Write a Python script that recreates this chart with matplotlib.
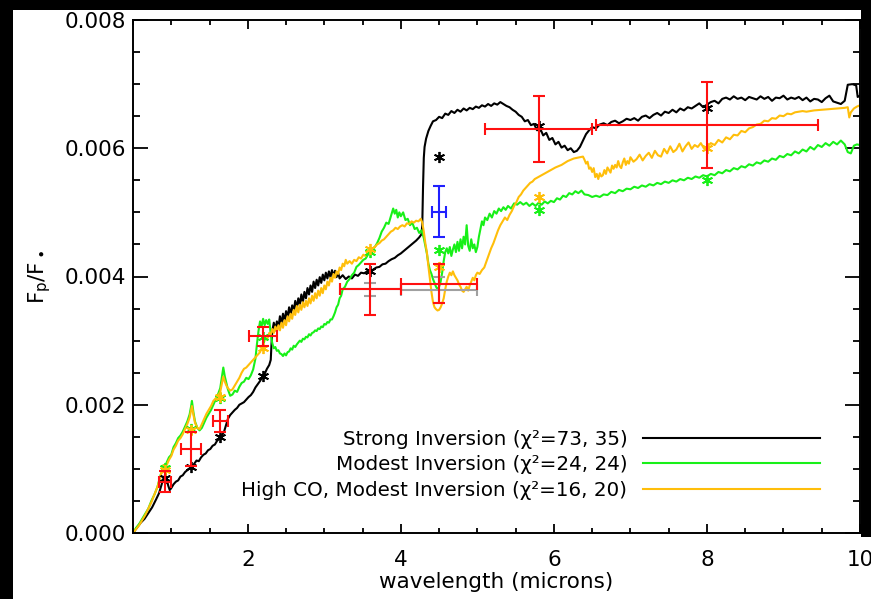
import numpy as np
import matplotlib
matplotlib.use("Agg")
import matplotlib.pyplot as plt
from matplotlib.patches import Rectangle
from matplotlib.ticker import MultipleLocator, FormatStrFormatter

plt.rcParams['font.family'] = ['DejaVu Sans']
plt.rcParams['mathtext.fontset'] = 'dejavusans'

# ---------------- model spectra (flux ratio in units of 1e-3) ----------------
strong_wl = [0.50, 0.55, 0.60, 0.65, 0.70, 0.75, 0.80, 0.84, 0.87, 0.90, 0.92, 0.94, 0.96, 0.98,
             1.00, 1.03, 1.06, 1.09, 1.12, 1.15, 1.18, 1.21, 1.24, 1.27, 1.30, 1.33, 1.36, 1.39,
             1.42, 1.45, 1.48, 1.51, 1.54, 1.57, 1.60, 1.63, 1.66, 1.69, 1.72, 1.74, 1.77, 1.80,
             1.83, 1.86, 1.89, 1.92, 1.95, 1.98, 2.01, 2.04, 2.07, 2.10, 2.13, 2.16, 2.19, 2.22,
             2.25, 2.28, 2.30, 2.31, 2.32,
             2.34, 2.36, 2.38, 2.40, 2.42, 2.44, 2.46, 2.48, 2.50, 2.52, 2.54, 2.56, 2.58, 2.60,
             2.62, 2.64, 2.66, 2.68, 2.70, 2.72, 2.74, 2.76, 2.78, 2.80, 2.82, 2.84, 2.86, 2.88,
             2.90, 2.92, 2.94, 2.96, 2.98, 3.00, 3.02, 3.04, 3.06, 3.08, 3.10, 3.12, 3.14, 3.16,
             3.18, 3.20, 3.24, 3.28, 3.32, 3.36, 3.40, 3.44, 3.48, 3.52, 3.56, 3.60, 3.64, 3.68,
             3.72, 3.76, 3.80, 3.84, 3.88, 3.92, 3.96, 4.00, 4.04, 4.08, 4.12, 4.16, 4.20, 4.24,
             4.27, 4.28, 4.29, 4.30, 4.31, 4.33, 4.36, 4.39, 4.42, 4.46, 4.50, 4.54, 4.58, 4.62,
             4.66, 4.70, 4.74, 4.78, 4.82, 4.86, 4.90, 4.94, 4.98, 5.02, 5.06, 5.10, 5.14, 5.18,
             5.22, 5.26, 5.30, 5.34, 5.38, 5.42, 5.46, 5.50, 5.54, 5.58, 5.62, 5.66, 5.70, 5.74,
             5.78, 5.82, 5.86, 5.90, 5.94, 5.98, 6.02, 6.06, 6.10, 6.14, 6.18, 6.22, 6.26, 6.30,
             6.34, 6.38, 6.42, 6.46, 6.50, 6.55, 6.60, 6.65, 6.70, 6.75, 6.80, 6.85, 6.90, 6.95,
             7.00, 7.05, 7.10, 7.15, 7.20, 7.25, 7.30, 7.35, 7.40, 7.45, 7.50, 7.55, 7.60, 7.65,
             7.70, 7.75, 7.80, 7.85, 7.90, 7.95, 8.00, 8.05, 8.10, 8.15, 8.20, 8.25, 8.30, 8.35,
             8.40, 8.45, 8.50, 8.55, 8.60, 8.65, 8.70, 8.75, 8.80, 8.85, 8.90, 8.95, 9.00, 9.05,
             9.10, 9.15, 9.20, 9.25, 9.30, 9.35, 9.40, 9.45, 9.50, 9.55, 9.60, 9.65, 9.70, 9.75,
             9.80, 9.84, 9.90, 9.95, 9.97, 10.00]
strong_flux = [0.00, 0.08, 0.16, 0.22, 0.31, 0.40, 0.52, 0.62, 0.74, 0.86, 0.90, 0.84, 0.74, 0.67,
               0.70, 0.76, 0.80, 0.82, 0.88, 0.90, 0.95, 0.98, 1.01, 1.04, 1.08, 1.13, 1.12, 1.18,
               1.22, 1.24, 1.29, 1.31, 1.36, 1.38, 1.44, 1.47, 1.52, 1.58, 1.70, 1.78, 1.84, 1.88,
               1.92, 1.95, 2.00, 2.02, 2.04, 2.08, 2.12, 2.15, 2.20, 2.27, 2.32, 2.37, 2.43, 2.48,
               2.56, 2.62, 2.70, 2.95, 3.15,
               3.28, 3.16, 3.30, 3.20, 3.38, 3.26, 3.42, 3.30, 3.46, 3.36, 3.52, 3.40, 3.55, 3.46,
               3.62, 3.50, 3.66, 3.56, 3.72, 3.60, 3.76, 3.66, 3.82, 3.72, 3.86, 3.76, 3.92, 3.82,
               3.95, 3.86, 3.99, 3.90, 4.03, 3.94, 4.06, 3.97, 4.08, 3.99, 4.10, 4.00, 4.09, 3.99,
               4.06, 3.97, 4.02, 3.96, 4.00, 3.97, 4.03, 4.01, 4.06, 4.05, 4.08, 4.07, 4.11, 4.14,
               4.15, 4.19, 4.20, 4.24, 4.27, 4.29, 4.33, 4.36, 4.40, 4.44, 4.48, 4.52, 4.56, 4.61,
               4.66, 4.80, 5.40, 5.85, 6.02, 6.15, 6.27, 6.35, 6.42, 6.44, 6.49, 6.47, 6.54, 6.52,
               6.58, 6.55, 6.60, 6.57, 6.62, 6.59, 6.63, 6.61, 6.65, 6.63, 6.67, 6.65, 6.69, 6.66,
               6.70, 6.68, 6.72, 6.69, 6.66, 6.64, 6.60, 6.57, 6.52, 6.49, 6.42, 6.44, 6.36, 6.38,
               6.28, 6.31, 6.20, 6.24, 6.13, 6.16, 6.06, 6.10, 6.01, 6.04, 5.97, 6.00, 5.94, 5.96,
               6.02, 6.12, 6.22, 6.28, 6.33, 6.31, 6.37, 6.39, 6.36, 6.41, 6.43, 6.39, 6.42, 6.46,
               6.44, 6.47, 6.43, 6.49, 6.51, 6.47, 6.52, 6.55, 6.51, 6.57, 6.55, 6.60, 6.56, 6.62,
               6.59, 6.64, 6.62, 6.66, 6.70, 6.64, 6.68, 6.72, 6.74, 6.70, 6.77, 6.79, 6.76, 6.81,
               6.77, 6.79, 6.75, 6.80, 6.78, 6.76, 6.81, 6.77, 6.80, 6.74, 6.79, 6.78, 6.82, 6.76,
               6.79, 6.77, 6.80, 6.75, 6.79, 6.73, 6.77, 6.76, 6.72, 6.78, 6.82, 6.73, 6.71, 6.69,
               6.74, 6.99, 7.00, 6.98, 6.80, 6.82]

modest_wl = [0.50, 0.54, 0.58, 0.62, 0.66, 0.70, 0.74, 0.78, 0.82, 0.85, 0.88, 0.90, 0.92, 0.94,
             0.97, 1.00, 1.03, 1.06, 1.09, 1.12, 1.15, 1.18, 1.21, 1.24, 1.26, 1.27, 1.29, 1.31,
             1.34, 1.37, 1.40, 1.43, 1.46, 1.49, 1.52, 1.55, 1.58, 1.61, 1.64, 1.66, 1.68, 1.70,
             1.72, 1.74, 1.77, 1.80, 1.83, 1.86, 1.89, 1.92, 1.95, 1.98, 2.01, 2.04, 2.07, 2.10,
             2.12, 2.14, 2.16, 2.18, 2.20, 2.22, 2.24, 2.26, 2.28, 2.30, 2.32, 2.34, 2.36, 2.38,
             2.40, 2.42, 2.44, 2.46, 2.48, 2.50, 2.52, 2.54, 2.56, 2.58, 2.60, 2.62, 2.64, 2.66,
             2.68, 2.70, 2.72, 2.74, 2.76, 2.78, 2.80, 2.82, 2.84, 2.86, 2.88, 2.90, 2.92, 2.94,
             2.96, 2.98, 3.00, 3.02, 3.04, 3.06, 3.08, 3.10, 3.12, 3.14, 3.16, 3.18, 3.20, 3.22,
             3.24, 3.27, 3.30, 3.33, 3.36, 3.39, 3.42, 3.45, 3.48, 3.51, 3.54, 3.57, 3.60, 3.63,
             3.66, 3.69, 3.72, 3.75, 3.78, 3.81, 3.84, 3.87, 3.90, 3.92, 3.94, 3.96, 3.98, 4.00,
             4.03, 4.06, 4.09, 4.12, 4.15, 4.18, 4.21, 4.24, 4.27, 4.30, 4.32, 4.34, 4.36, 4.38,
             4.40, 4.42, 4.44, 4.46, 4.48, 4.50, 4.52, 4.54, 4.56, 4.58, 4.60, 4.62, 4.64, 4.66,
             4.68, 4.70, 4.72, 4.74, 4.76, 4.78, 4.80, 4.82, 4.84, 4.86, 4.88, 4.90, 4.92, 4.94,
             4.96, 4.98, 5.00, 5.02, 5.04, 5.06, 5.08, 5.10, 5.13, 5.16, 5.19, 5.22, 5.25, 5.28,
             5.31, 5.34, 5.37, 5.40, 5.44, 5.48, 5.52, 5.56, 5.60, 5.64, 5.68, 5.72, 5.76, 5.80,
             5.84, 5.88, 5.92, 5.96, 6.00, 6.04, 6.08, 6.12, 6.16, 6.20, 6.24, 6.28, 6.32, 6.36,
             6.40, 6.45, 6.50, 6.55, 6.60, 6.65, 6.70, 6.75, 6.80, 6.85, 6.90, 6.95, 7.00, 7.05,
             7.10, 7.15, 7.20, 7.25, 7.30, 7.35, 7.40, 7.45, 7.50, 7.55, 7.60, 7.65, 7.70, 7.75,
             7.80, 7.85, 7.90, 7.95, 8.00, 8.05, 8.10, 8.15, 8.20, 8.25, 8.30, 8.35, 8.40, 8.45,
             8.50, 8.55, 8.60, 8.65, 8.70, 8.75, 8.80, 8.85, 8.90, 8.95, 9.00, 9.05, 9.10, 9.15,
             9.20, 9.25, 9.30, 9.35, 9.40, 9.45, 9.50, 9.55, 9.60, 9.65, 9.70, 9.75, 9.80, 9.84,
             9.88, 9.92, 9.96, 10.00]
modest_flux = [0.00, 0.08, 0.14, 0.22, 0.30, 0.38, 0.50, 0.60, 0.72, 0.86, 0.98, 1.06, 1.00, 1.10,
               1.18, 1.22, 1.34, 1.40, 1.48, 1.52, 1.58, 1.66, 1.74, 1.85, 1.98, 2.06, 1.88, 1.74,
               1.64, 1.60, 1.64, 1.72, 1.80, 1.86, 1.92, 2.00, 2.08, 2.16, 2.26, 2.42, 2.58, 2.44,
               2.34, 2.24, 2.14, 2.16, 2.22, 2.20, 2.28, 2.34, 2.36, 2.42, 2.40, 2.46, 2.55, 2.72,
               2.95, 3.15, 3.30, 3.22, 3.34, 3.24, 3.32, 3.26, 3.33, 3.10, 2.96, 2.88, 2.90, 2.84,
               2.85, 2.80, 2.79, 2.76, 2.80, 2.77, 2.82, 2.83, 2.88, 2.86, 2.92, 2.90, 2.94, 2.97,
               3.00, 2.98, 3.03, 3.02, 3.06, 3.05, 3.10, 3.08, 3.12, 3.13, 3.16, 3.15, 3.19, 3.18,
               3.22, 3.21, 3.26, 3.25, 3.29, 3.28, 3.33, 3.33, 3.38, 3.44, 3.52, 3.56, 3.66, 3.70,
               3.80, 3.84, 3.92, 3.96, 4.02, 4.06, 4.15, 4.18, 4.22, 4.26, 4.28, 4.34, 4.37, 4.42,
               4.46, 4.52, 4.60, 4.70, 4.76, 4.84, 4.82, 4.94, 5.06, 4.98, 5.04, 4.92, 5.00, 4.94,
               5.00, 4.88, 4.90, 4.80, 4.84, 4.74, 4.76, 4.68, 4.72, 4.60, 4.48, 4.36, 4.20, 4.10,
               4.04, 3.96, 3.90, 3.84, 3.80, 3.84, 3.92, 4.06, 4.24, 4.38, 4.44, 4.36, 4.46, 4.32,
               4.42, 4.50, 4.38, 4.54, 4.40, 4.58, 4.44, 4.62, 4.50, 4.80, 4.48, 4.40, 4.58, 4.44,
               4.50, 4.38, 4.46, 4.62, 4.74, 4.86, 4.80, 4.92, 4.88, 4.98, 4.92, 5.02, 4.98, 5.06,
               5.02, 5.08, 5.04, 5.10, 5.06, 5.14, 5.12, 5.16, 5.12, 5.15, 5.10, 5.14, 5.10, 5.15,
               5.12, 5.17, 5.14, 5.18, 5.16, 5.22, 5.20, 5.26, 5.24, 5.30, 5.28, 5.33, 5.30, 5.34,
               5.28, 5.27, 5.24, 5.26, 5.24, 5.28, 5.27, 5.32, 5.30, 5.35, 5.33, 5.37, 5.36, 5.40,
               5.38, 5.42, 5.40, 5.44, 5.42, 5.46, 5.44, 5.48, 5.46, 5.50, 5.48, 5.52, 5.50, 5.54,
               5.52, 5.56, 5.54, 5.58, 5.56, 5.60, 5.58, 5.63, 5.61, 5.66, 5.64, 5.69, 5.67, 5.72,
               5.70, 5.75, 5.73, 5.78, 5.76, 5.81, 5.79, 5.84, 5.82, 5.88, 5.86, 5.91, 5.89, 5.95,
               5.92, 5.98, 5.95, 6.02, 5.98, 6.05, 6.02, 6.08, 6.04, 6.10, 6.06, 6.12, 6.06, 5.94,
               5.92, 6.04, 6.06, 6.05]

highco_wl = [0.50, 0.54, 0.58, 0.62, 0.66, 0.70, 0.74, 0.78, 0.82, 0.85, 0.88, 0.90, 0.92, 0.94,
             0.97, 1.00, 1.03, 1.06, 1.09, 1.12, 1.15, 1.18, 1.21, 1.24, 1.26, 1.27, 1.29, 1.31,
             1.34, 1.37, 1.40, 1.43, 1.46, 1.49, 1.52, 1.55, 1.58, 1.61, 1.64, 1.66, 1.68, 1.70,
             1.72, 1.74, 1.77, 1.80, 1.83, 1.86, 1.89, 1.92, 1.95, 1.98, 2.01, 2.04, 2.07, 2.10,
             2.13, 2.16, 2.18, 2.20, 2.22, 2.24, 2.26, 2.28, 2.30, 2.32, 2.34, 2.36, 2.38, 2.40,
             2.42, 2.44, 2.46, 2.48, 2.50, 2.52, 2.54, 2.56, 2.58, 2.60, 2.62, 2.64, 2.66, 2.68,
             2.70, 2.72, 2.74, 2.76, 2.78, 2.80, 2.82, 2.84, 2.86, 2.88, 2.90, 2.92, 2.94, 2.96,
             2.98, 3.00, 3.02, 3.04, 3.06, 3.08, 3.10, 3.12, 3.14, 3.16, 3.18, 3.20, 3.22, 3.24,
             3.26, 3.28, 3.30, 3.33, 3.36, 3.39, 3.42, 3.45, 3.48, 3.51, 3.54, 3.57, 3.60, 3.63,
             3.66, 3.69, 3.72, 3.75, 3.78, 3.81, 3.84, 3.87, 3.90, 3.93, 3.96, 3.99, 4.02, 4.05,
             4.08, 4.11, 4.14, 4.17, 4.20, 4.23, 4.26, 4.28, 4.30, 4.32, 4.34, 4.36, 4.38, 4.40,
             4.42, 4.44, 4.46, 4.48, 4.50, 4.52, 4.54, 4.56, 4.58, 4.60, 4.62, 4.64, 4.66, 4.68,
             4.70, 4.72, 4.74, 4.76, 4.78, 4.80, 4.82, 4.84, 4.86, 4.88, 4.90, 4.92, 4.94, 4.96,
             4.98, 5.00, 5.03, 5.06, 5.09, 5.12, 5.15, 5.18, 5.21, 5.24, 5.27, 5.30, 5.33, 5.36,
             5.39, 5.42, 5.45, 5.48, 5.51, 5.54, 5.57, 5.60, 5.63, 5.66, 5.69, 5.72, 5.75, 5.78,
             5.81, 5.84, 5.87, 5.90, 5.93, 5.96, 5.99, 6.02, 6.06, 6.10, 6.14, 6.18, 6.22, 6.26,
             6.30, 6.34, 6.38, 6.40, 6.42, 6.44, 6.46, 6.48, 6.50, 6.52, 6.54, 6.56, 6.58, 6.60,
             6.62, 6.64, 6.66, 6.68, 6.70, 6.72, 6.74, 6.76, 6.78, 6.80, 6.82, 6.84, 6.86, 6.88,
             6.90, 6.92, 6.94, 6.96, 6.98, 7.00, 7.04, 7.08, 7.12, 7.16, 7.20, 7.24, 7.28, 7.32,
             7.36, 7.40, 7.44, 7.48, 7.52, 7.56, 7.60, 7.64, 7.68, 7.72, 7.76, 7.80, 7.84, 7.88,
             7.92, 7.96, 8.00, 8.05, 8.10, 8.15, 8.20, 8.25, 8.30, 8.35, 8.40, 8.45, 8.50, 8.55,
             8.60, 8.65, 8.70, 8.75, 8.80, 8.85, 8.90, 8.95, 9.00, 9.05, 9.10, 9.15, 9.20, 9.25,
             9.30, 9.40, 9.50, 9.60, 9.70, 9.80, 9.84, 9.86, 9.88, 9.92, 9.96, 10.00]
highco_flux = [0.00, 0.06, 0.12, 0.20, 0.28, 0.38, 0.48, 0.60, 0.72, 0.84, 0.98, 1.06, 0.98, 1.06,
               1.14, 1.20, 1.30, 1.36, 1.44, 1.48, 1.54, 1.62, 1.70, 1.80, 1.92, 1.98, 1.84, 1.72,
               1.64, 1.62, 1.70, 1.78, 1.86, 1.92, 1.98, 2.06, 2.10, 2.14, 2.20, 2.32, 2.44, 2.36,
               2.30, 2.26, 2.22, 2.24, 2.30, 2.36, 2.42, 2.50, 2.56, 2.58, 2.62, 2.66, 2.70, 2.74,
               2.78, 2.82, 2.88, 2.94, 3.00, 3.06, 3.04, 3.12, 3.10, 3.18, 3.12, 3.22, 3.14, 3.24,
               3.16, 3.28, 3.20, 3.32, 3.24, 3.38, 3.30, 3.42, 3.34, 3.48, 3.40, 3.54, 3.44, 3.56,
               3.48, 3.60, 3.52, 3.62, 3.54, 3.66, 3.58, 3.70, 3.62, 3.74, 3.66, 3.78, 3.70, 3.82,
               3.74, 3.86, 3.80, 3.92, 3.86, 3.98, 3.92, 4.04, 3.98, 4.08, 4.04, 4.14, 4.10, 4.20,
               4.16, 4.26, 4.20, 4.24, 4.20, 4.26, 4.24, 4.30, 4.28, 4.34, 4.32, 4.38, 4.40, 4.44,
               4.46, 4.50, 4.52, 4.56, 4.58, 4.62, 4.66, 4.70, 4.72, 4.76, 4.74, 4.78, 4.80, 4.78,
               4.83, 4.82, 4.86, 4.84, 4.87, 4.86, 4.90, 4.84, 4.70, 4.52, 4.38, 4.16, 3.96, 3.76,
               3.60, 3.52, 3.49, 3.47, 3.48, 3.52, 3.58, 3.66, 3.80, 3.92, 4.00, 4.06, 4.02, 4.08,
               4.02, 3.98, 3.94, 3.88, 3.84, 3.78, 3.76, 3.80, 3.84, 3.78, 3.86, 3.92, 3.98, 3.94,
               4.02, 4.06, 4.04, 4.10, 4.14, 4.24, 4.34, 4.44, 4.52, 4.62, 4.72, 4.80, 4.86, 4.92,
               4.88, 4.96, 5.02, 5.10, 5.16, 5.24, 5.28, 5.34, 5.38, 5.42, 5.46, 5.48, 5.52, 5.54,
               5.56, 5.58, 5.60, 5.62, 5.64, 5.66, 5.68, 5.70, 5.72, 5.74, 5.77, 5.80, 5.82, 5.84,
               5.85, 5.86, 5.87, 5.82, 5.76, 5.79, 5.68, 5.70, 5.63, 5.69, 5.55, 5.60, 5.52, 5.61,
               5.56, 5.58, 5.66, 5.60, 5.70, 5.66, 5.62, 5.73, 5.68, 5.74, 5.70, 5.80, 5.72, 5.69,
               5.78, 5.84, 5.74, 5.80, 5.76, 5.86, 5.79, 5.83, 5.90, 5.81, 5.88, 5.93, 5.85, 5.96,
               5.89, 5.87, 5.99, 5.92, 6.03, 5.94, 5.98, 6.07, 5.95, 6.03, 6.09, 5.99, 6.05, 6.02,
               6.08, 6.00, 6.02, 6.08, 6.05, 6.13, 6.09, 6.17, 6.14, 6.21, 6.20, 6.27, 6.25, 6.31,
               6.33, 6.37, 6.38, 6.43, 6.42, 6.47, 6.46, 6.51, 6.50, 6.54, 6.53, 6.56, 6.57, 6.58,
               6.57, 6.59, 6.60, 6.61, 6.62, 6.63, 6.64, 6.48, 6.56, 6.62, 6.65, 6.67]

# ---------------- band-integrated model points (1e-3) ----------------
band_wl = [0.92, 1.26, 1.64, 2.20, 3.60, 4.50, 5.80, 8.00]
strong_band = [0.86, 1.03, 1.50, 2.45, 4.09, 5.87, 6.34, 6.63]
modest_band = [1.02, 1.62, 2.10, 3.05, 4.38, 4.42, 5.04, 5.50]
highco_band = [0.98, 1.60, 2.12, 2.89, 4.43, 4.15, 5.24, 6.00]

# ---------------- observed eclipse depths (1e-3) ----------------
obs_wl = [0.92, 1.26, 1.64, 2.20, 3.60, 4.50, 5.80, 8.00]
obs_wl_err = [0.08, 0.13, 0.10, 0.18, 0.40, 0.50, 0.70, 1.45]
obs_depth = [0.80, 1.31, 1.75, 3.07, 3.80, 3.89, 6.30, 6.36]
obs_depth_err = [0.16, 0.26, 0.17, 0.15, 0.40, 0.31, 0.52, 0.67]

alt_wl = [3.60, 4.50]
alt_wl_err = [0.40, 0.50]
alt_depth = [3.80, 3.79]
alt_depth_err = [0.10, 0.20]

extra_wl = [4.50]
extra_wl_err = [0.09]
extra_depth = [5.01]
extra_depth_err = [0.40]

legend_labels = ["Strong Inversion (χ²=73, 35)",
                 "Modest Inversion (χ²=24, 24)",
                 "High CO, Modest Inversion (χ²=16, 20)"]

BLACK, GREEN, GOLD = "black", "#18f018", "#ffbe0a"
scale = 1e-3

fig = plt.figure(figsize=(8.71, 5.99), dpi=100, facecolor="black")
# white page area behind the plot
fig.patches.append(Rectangle((13 / 871, 0), (861 - 13) / 871, 589 / 599,
                             transform=fig.transFigure, facecolor="white",
                             edgecolor="none", zorder=-10))
fig.patches.append(Rectangle((13 / 871, 0), 1 - 13 / 871, 62 / 599,
                             transform=fig.transFigure, facecolor="white",
                             edgecolor="none", zorder=-10))
ax = fig.add_axes([133 / 871, 66 / 599, 727 / 871, 513 / 599])
ax.set_facecolor("white")

lw = 1.5
ax.plot(strong_wl, np.array(strong_flux) * scale, color=BLACK, lw=lw, label=legend_labels[0], zorder=2)
ax.plot(modest_wl, np.array(modest_flux) * scale, color=GREEN, lw=lw, label=legend_labels[1], zorder=2)
ax.plot(highco_wl, np.array(highco_flux) * scale, color=GOLD, lw=lw, label=legend_labels[2], zorder=2)

star = (6, 2, 0)
ax.plot(band_wl, np.array(strong_band) * scale, ls="none", marker=star, ms=8, mew=1.3, color=BLACK, zorder=3)
ax.plot(band_wl, np.array(modest_band) * scale, ls="none", marker=star, ms=8, mew=1.3, color=GREEN, zorder=3)
ax.plot(band_wl, np.array(highco_band) * scale, ls="none", marker=star, ms=8, mew=1.3, color=GOLD, zorder=3)

eb = dict(ls="none", capsize=4, elinewidth=1.5, capthick=1.5)
ax.errorbar(alt_wl, np.array(alt_depth) * scale, xerr=alt_wl_err,
            yerr=np.array(alt_depth_err) * scale, color="#a0a0a0", zorder=4, **eb)
ax.errorbar(obs_wl, np.array(obs_depth) * scale, xerr=obs_wl_err,
            yerr=np.array(obs_depth_err) * scale, color="#ff1010", zorder=5, **eb)
ax.errorbar(extra_wl, np.array(extra_depth) * scale, xerr=extra_wl_err,
            yerr=np.array(extra_depth_err) * scale, color="#2020ff", zorder=5, **eb)

ax.set_xlim(0.5, 10)
ax.set_ylim(0, 0.008)
ax.xaxis.set_major_locator(MultipleLocator(2))
ax.xaxis.set_minor_locator(MultipleLocator(0.5))
ax.yaxis.set_major_locator(MultipleLocator(0.002))
ax.yaxis.set_minor_locator(MultipleLocator(0.0005))
ax.yaxis.set_major_formatter(FormatStrFormatter("%.3f"))

for s in ax.spines.values():
    s.set_linewidth(1.4)
ax.tick_params(axis="both", which="both", direction="in", top=True, right=True,
               width=1.3, labelsize=15.5)
ax.tick_params(axis="x", which="major", length=6.5, pad=12)
ax.tick_params(axis="x", which="minor", length=3.3)
ax.tick_params(axis="y", which="major", length=10.5, pad=5)
ax.tick_params(axis="y", which="minor", length=5.3)

ax.set_xlabel("wavelength (microns)", fontsize=15.5, labelpad=2)
ax.set_ylabel(r"F$_{\rm p}$/F$_\bullet$", fontsize=15.5, labelpad=8)

leg = ax.legend(loc="lower right", bbox_to_anchor=(0.945, 0.064), frameon=False,
                markerfirst=False, fontsize=14.3, handlelength=8.9, handletextpad=0.8,
                labelspacing=0.34, borderpad=0, borderaxespad=0)
for h in leg.legend_handles:
    h.set_linewidth(1.5)

fig.savefig("out.png", dpi=100, facecolor=fig.get_facecolor())
